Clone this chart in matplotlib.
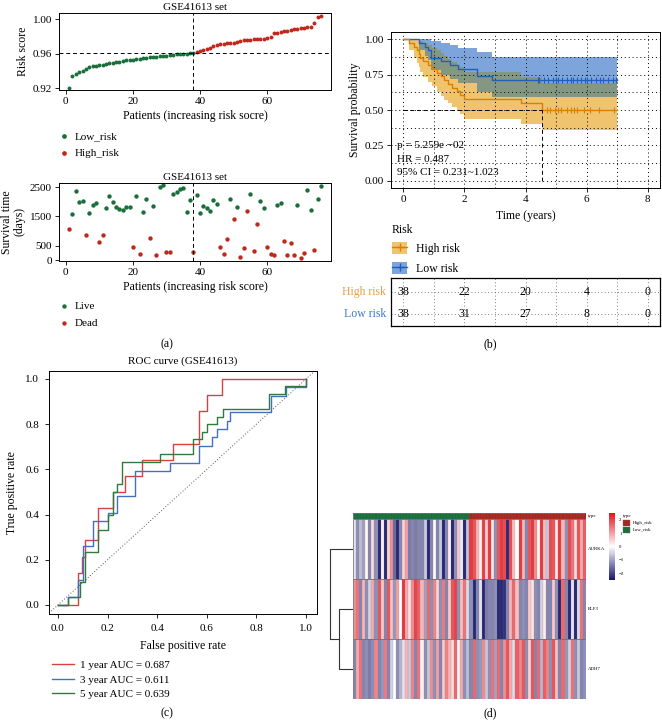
"""Risk model panel: risk score / survival scatter, KM curve, ROC and expression heatmap."""
import numpy as np
import matplotlib
matplotlib.use("Agg")
import matplotlib.pyplot as plt
from matplotlib.colors import LinearSegmentedColormap, ListedColormap, Normalize
from matplotlib.lines import Line2D
from matplotlib.patches import Patch, Rectangle

plt.rcParams["font.family"] = ["Liberation Serif", "DejaVu Serif"]
plt.rcParams["axes.linewidth"] = 0.7

W, H = 662, 720

# ---------------- data ----------------
# (a) risk score, sorted; first 38 low risk, last 38 high risk
risk_low = [0.9200, 0.9345, 0.9357, 0.9380, 0.9400, 0.9420, 0.9440, 0.9450, 0.9460, 0.9465,
            0.9470, 0.9478, 0.9485, 0.9492, 0.9500, 0.9505, 0.9512, 0.9520, 0.9525, 0.9530,
            0.9535, 0.9540, 0.9545, 0.9550, 0.9555, 0.9560, 0.9563, 0.9567, 0.9570, 0.9575,
            0.9580, 0.9585, 0.9590, 0.9594, 0.9597, 0.9600, 0.9602, 0.9605]
risk_high = [0.9616, 0.9627, 0.9639, 0.9651, 0.9666, 0.9686, 0.9698, 0.9705, 0.9709, 0.9717,
             0.9721, 0.9725, 0.9733, 0.9744, 0.9752, 0.9756, 0.9760, 0.9764, 0.9768, 0.9768,
             0.9772, 0.9780, 0.9795, 0.9834, 0.9842, 0.9850, 0.9858, 0.9861, 0.9873, 0.9881,
             0.9885, 0.9893, 0.9897, 0.9904, 0.9912, 0.9959, 1.0029, 1.0041]
risk_cutoff = 0.9608

# survival time (days) and status (1 = dead) per patient in risk order
surv_days = [1055, 1583, 2374, 1996, 2019, 860, 1617, 1893, 1961, 608,
             872, 1789, 2179, 2007, 1835, 1766, 1732, 1824, 1824, 459,
             2202, 218, 1640, 2110, 745, 1847, 195, 2500, 2558, 287,
             287, 2260, 2317, 2432, 2455, 1663, 2053, 275, 2214, 1629,
             1858, 1801, 1686, 2065, 1916, 459, 218, 723, 2110, 1411,
             1835, 103, 424, 1675, 2248, 321, 1227, 2042, 1789, 447,
             218, 195, 1893, 1950, 654, 195, 574, 172, 1904, 69,
             252, 2409, 1732, 367, 2088, 2535]
surv_dead = [1, 0, 0, 0, 0, 1, 0, 0, 0, 1,
             1, 0, 0, 0, 0, 0, 0, 0, 0, 1,
             0, 1, 0, 0, 1, 0, 1, 0, 0, 1,
             1, 0, 0, 0, 0, 0, 0, 1, 0, 0,
             0, 0, 0, 0, 0, 1, 1, 1, 0, 1,
             0, 1, 1, 1, 0, 1, 1, 0, 0, 1,
             1, 1, 0, 0, 1, 1, 1, 1, 0, 1,
             1, 0, 0, 1, 0, 0]

# (b) Kaplan-Meier
km_low_t = [0, 0.5, 0.7, 0.82, 0.9, 1.25, 1.52, 1.8, 2.4, 2.9, 7.0]
km_low_s = [1, 0.974, 0.947, 0.921, 0.868, 0.842, 0.816, 0.789, 0.737, 0.711, 0.711]
km_low_lo = [1, 0.92, 0.88, 0.85, 0.78, 0.75, 0.72, 0.69, 0.63, 0.59, 0.59]
km_low_hi = [1, 1, 1, 1, 0.99, 0.97, 0.96, 0.94, 0.91, 0.872, 0.872]
km_low_cens = [4.4, 4.45, 4.6, 4.75, 4.9, 5.0, 5.05, 5.2, 5.35, 5.5, 5.55,
               5.7, 5.8, 5.95, 6.0, 6.15, 6.3, 6.45, 6.55, 6.7, 6.85, 6.95]
km_high_t = [0, 0.2, 0.35, 0.45, 0.5, 0.55, 0.65, 0.8, 0.95, 1.1, 1.25, 1.35, 1.45,
             1.6, 1.75, 1.85, 2.0, 3.85, 4.55, 7.0]
km_high_s = [1, .974, .947, .921, .895, .868, .842, .816, .789, .763, .737, .711, .684,
             .658, .632, .605, .579, .55, .50, .50]
km_high_lo = [1, .92, .87, .83, .80, .77, .73, .70, .67, .63, .60, .57, .55,
              .52, .49, .47, .44, .40, .36, .36]
km_high_hi = [1, 1, 1, 1, 1, .99, .97, .96, .94, .92, .90, .88, .86,
              .84, .82, .80, .77, .73, .69, .69]
km_high_cens = [4.55, 4.7, 4.8, 4.95, 5.05, 5.15, 5.35, 5.5, 5.6, 5.7, 5.9, 6.1, 6.4, 6.9]
median_high = 4.55
risk_times = [0, 2, 4, 6, 8]
at_risk_high = [38, 22, 20, 4, 0]
at_risk_low = [38, 31, 27, 8, 0]

# (c) ROC
roc_1y_fpr = [0, 0.08, 0.095, 0.108, 0.16, 0.22, 0.27, 0.34, 0.465, 0.57, 0.6, 0.66, 1.0]
roc_1y_tpr = [0, 0.143, 0.214, 0.286, 0.429, 0.5, 0.571, 0.643, 0.714, 0.857, 0.929, 1.0, 1.0]
roc_3y_fpr = [0, 0.04, 0.08, 0.1, 0.14, 0.2, 0.24, 0.31, 0.45, 0.57, 0.62, 0.64, 0.68,
              0.695, 0.86, 0.92, 1.0]
roc_3y_tpr = [0, 0.037, 0.111, 0.259, 0.37, 0.407, 0.481, 0.593, 0.63, 0.704, 0.741,
              0.778, 0.815, 0.852, 0.926, 0.963, 1.0]
roc_5y_fpr = [0, 0.04, 0.09, 0.11, 0.16, 0.2, 0.22, 0.24, 0.26, 0.41, 0.545, 0.58, 0.6,
              0.64, 0.665, 0.85, 0.915, 1.0]
roc_5y_tpr = [0, 0.033, 0.1, 0.233, 0.333, 0.4, 0.5, 0.533, 0.633, 0.667, 0.733, 0.767,
              0.8, 0.833, 0.867, 0.933, 0.967, 1.0]
roc_labels = ["1 year AUC = 0.687", "3 year AUC = 0.611", "5 year AUC = 0.639"]

# (d) heatmap (z-scores), 38 low-risk then 38 high-risk samples
genes = ["AURKA", "ELF3", "ADH7"]
expr_aurka = [-0.3, -1.2, -0.7, -1.0, 0.1, -1.3, 0.4, -1.2, -2.3, 0.2, -2.3, 0.5, 1.2, -1.6,
              -2.3, -1.3, 0.5, 1.0, -1.4, -1.3, -1.4, -1.3, -1.3, -0.6, -2.3, -1.3, 0.1, -1.3,
              -0.6, -2.3, -1.3, 0.2, -2.3, -1.2, 0.6, -0.2, -2.3, -0.7,
              2.1, 1.8, 0.8, 0.2, 2.0, 0.6, 2.1, 0.3, -1.2, 1.8, 2.1, 1.9, -2.3, 1.9, 0.7, 0.0,
              2.1, 0.8, -1.3, 1.8, 2.1, 1.2, 0.1, 2.1, 0.7, -0.6, 1.9, 1.8, 0.3, 2.1, 0.8, -1.2,
              1.9, 1.5, 0.4, 1.8, 0.9, 1.7]
expr_elf3 = [1.2, 1.5, -1.3, 0.8, -1.2, -0.5, 0.9, -1.2, 1.8, 0.6, -1.3, 1.8, 0.7, -1.1,
             1.0, 0.0, 2.1, 0.9, 0.3, 1.2, 2.0, 1.7, 0.8, -1.0, 1.6, -1.2, 1.3, 0.5, -1.2, 1.4,
             -1.3, 0.6, 1.8, 2.0, -1.2, 0.7, 1.5, -0.4,
             -1.2, -2.3, -1.3, -0.3, -2.3, -1.4, -1.3, -1.3, -1.2, -2.3, -2.3, -2.2, -1.3, 0.8,
             1.6, 0.7, -1.3, -1.2, -1.3, 0.6, 0.3, -1.2, -1.3, -0.5, 0.2, -1.3, -1.3, 0.6, -1.2,
             -2.3, 1.6, -1.3, -2.3, -0.3, -2.3, -0.4, 1.5, -1.3]
expr_adh7 = [-1.3, 0.9, 1.5, -1.3, -1.2, -1.4, -1.2, 1.3, -1.3, -1.1, 1.4, -1.3, -0.5, 0.0,
             -1.2, -0.8, -0.3, 0.8, -0.6, 1.3, -1.3, 1.5, 0.2, -1.2, -0.6, 1.2, -1.2, 1.0, -1.3,
             0.6, 1.3, 0.8, 0.4, 1.6, -0.1, 0.9, -1.2, -0.7,
             -1.3, 1.6, -1.2, -1.1, 1.2, -0.6, -1.2, 1.5, -1.0, 1.6, -1.3, 1.2, 1.8, 0.9, -0.4,
             1.7, 1.3, 1.8, -1.2, 0.5, 1.8, -1.3, 1.6, -0.8, 1.7, 1.3, -1.2, 1.8, 0.7, -1.3, 1.6,
             -1.1, -0.5, 1.5, -1.2, -0.6, -1.3, -1.2]
sample_type = [0] * 38 + [1] * 38          # 0 Low_risk, 1 High_risk
dend_heights = [1.0, 1.65]                # ELF3+ADH7, then +AURKA

GREEN = "#1a6e3a"
RED = "#c0281c"
FS = 8


def box(x0, y0, x1, y1):
    """pixel box (top-left origin) -> figure fraction rect"""
    return [x0 / W, 1 - y1 / H, (x1 - x0) / W, (y1 - y0) / H]


def style(ax):
    ax.tick_params(labelsize=FS, length=3, width=0.6, pad=2)


def cell_grid(ax, ncol, nrow):
    """thin grey borders like pheatmap's border_color"""
    ax.vlines(np.arange(1, ncol), 0, nrow, color="#808080", lw=0.25, alpha=0.55)
    ax.hlines(np.arange(0, nrow + 1), 0, ncol, color="#707070", lw=0.6)
    ax.vlines([0, ncol], 0, nrow, color="#808080", lw=0.6)


fig = plt.figure(figsize=(W / 100, H / 100), dpi=100)

# ---------------- (a) risk score ----------------
pid = np.arange(1, 77)
ax = fig.add_axes(box(59, 13, 331, 90))
ax.scatter(pid[:38], risk_low, s=8, color=GREEN, lw=0, label="Low_risk")
ax.scatter(pid[38:], risk_high, s=8, color=RED, lw=0, label="High_risk")
ax.axvline(38, color="k", ls="--", lw=0.7, dashes=(4, 3))
ax.axhline(risk_cutoff, color="k", ls="--", lw=0.7, dashes=(4, 3))
ax.set_xlim(-2, 79)
ax.set_ylim(0.9177, 1.007)
ax.set_xticks([0, 20, 40, 60])
ax.set_yticks([0.92, 0.96, 1.00])
ax.set_yticklabels(["0.92", "0.96", "1.00"])
ax.set_title("GSE41613 set", fontsize=FS, pad=2)
ax.set_ylabel("Risk score", fontsize=8.5, labelpad=3)
ax.set_xlabel("Patients (increasing risk socre)", fontsize=8.5, labelpad=3)
style(ax)
h, l = ax.get_legend_handles_labels()
ax.legend(h, l, loc="upper left", bbox_to_anchor=(52 / W, 1 - 126 / H),
          bbox_transform=fig.transFigure, frameon=False, fontsize=FS,
          handletextpad=0.3, labelspacing=0.6, borderpad=0, handlelength=1.2,
          markerscale=1.2)

# ---------------- (a) survival time ----------------
ax = fig.add_axes(box(59, 183, 331, 261))
days = np.array(surv_days)
dead = np.array(surv_dead).astype(bool)
ax.scatter(pid[~dead], days[~dead], s=10, color=GREEN, lw=0, label="Live")
ax.scatter(pid[dead], days[dead], s=10, color=RED, lw=0, label="Dead")
ax.axvline(38, color="k", ls="--", lw=0.7, dashes=(4, 3))
ax.set_xlim(-2, 79)
ax.set_ylim(-25, 2640)
ax.set_xticks([0, 20, 40, 60])
ax.set_yticks([0, 500, 1500, 2500])
ax.set_title("GSE41613 set", fontsize=FS, pad=2)
ax.set_ylabel("Survival time\n(days)", fontsize=8.5, labelpad=3, linespacing=1.1)
ax.set_xlabel("Patients (increasing risk score)", fontsize=8.5, labelpad=3)
style(ax)
h, l = ax.get_legend_handles_labels()
ax.legend(h, l, loc="upper left", bbox_to_anchor=(52 / W, 1 - 296 / H),
          bbox_transform=fig.transFigure, frameon=False, fontsize=FS,
          handletextpad=0.3, labelspacing=0.6, borderpad=0, handlelength=1.2)

# ---------------- (b) Kaplan-Meier ----------------
BLUE_L, BLUE_F = "#1f5fbf", "#7da5dc"
ORG_L, ORG_F = "#d98000", "#f0c36e"
OVER_F = "#849783"


def step_at(times, vals, t):
    idx = np.searchsorted(times, t, side="right") - 1
    return np.asarray(vals)[idx]


ax = fig.add_axes(box(391, 32, 660, 188))
tg = np.union1d(km_low_t, km_high_t)
bl, bh = step_at(km_low_t, km_low_lo, tg), step_at(km_low_t, km_low_hi, tg)
ol, oh = step_at(km_high_t, km_high_lo, tg), step_at(km_high_t, km_high_hi, tg)
ax.fill_between(tg, bl, bh, step="post", color=BLUE_F, lw=0, zorder=1)
ax.fill_between(tg, ol, oh, step="post", color=ORG_F, lw=0, zorder=1)
lo_ov, hi_ov = np.maximum(bl, ol), np.minimum(bh, oh)
ax.fill_between(tg, lo_ov, hi_ov, where=hi_ov > lo_ov, step="post", color=OVER_F,
                lw=0, zorder=1.1)
ax.step(km_low_t, km_low_s, where="post", color=BLUE_L, lw=1.0, zorder=3)
ax.step(km_high_t, km_high_s, where="post", color=ORG_L, lw=1.0, zorder=3)
ax.plot(km_low_cens, step_at(km_low_t, km_low_s, np.array(km_low_cens)), ls="none",
        marker="|", ms=5, mew=0.8, color=BLUE_L, zorder=3)
ax.plot(km_high_cens, step_at(km_high_t, km_high_s, np.array(km_high_cens)), ls="none",
        marker="|", ms=5, mew=0.8, color=ORG_L, zorder=3)
ax.plot([0, median_high], [0.5, 0.5], color="k", ls="--", lw=0.7, dashes=(4, 3), zorder=4)
ax.plot([median_high, median_high], [0, 0.5], color="k", ls="--", lw=0.7, dashes=(4, 3), zorder=4)
ax.set_xlim(-0.4, 8.4)
ax.set_ylim(-0.05, 1.05)
ax.set_xticks([0, 2, 4, 6, 8])
ax.set_xticks([1, 3, 5, 7], minor=True)
ax.set_yticks([0, 0.25, 0.5, 0.75, 1.0])
ax.set_yticklabels(["0.00", "0.25", "0.50", "0.75", "1.00"])
ax.set_yticks([0.125, 0.375, 0.625, 0.875], minor=True)
ax.grid(which="both", color="k", ls=(0, (1, 3)), lw=0.7, zorder=2)
ax.set_axisbelow(False)
ax.tick_params(which="minor", length=0)
style(ax)
ax.set_ylabel("Survival probability", fontsize=8.5, labelpad=3)
ax.set_xlabel("Time (years)", fontsize=8.5, labelpad=4)
for yy, txt in zip([0.25, 0.15, 0.058],
                   ["p = 5.259e \u221202", "HR = 0.487", "95% CI = 0.231~1.023"]):
    ax.text(-0.2, yy, txt, fontsize=FS, va="center", ha="left", zorder=5)
handles = [(Patch(fc=ORG_F, ec="none"), Line2D([], [], color=ORG_L, marker="+", ms=6, lw=1)),
           (Patch(fc=BLUE_F, ec="none"), Line2D([], [], color=BLUE_L, marker="+", ms=6, lw=1))]
leg = ax.legend(handles, ["High risk", "Low risk"], title="Risk", loc="upper left",
                bbox_to_anchor=(386 / W, 1 - 218 / H), bbox_transform=fig.transFigure,
                frameon=False, fontsize=8.5, title_fontsize=8.5, alignment="left",
                handlelength=1.3, handleheight=1.2, labelspacing=0.55, handletextpad=0.7,
                borderpad=0)

# risk table
ax = fig.add_axes(box(391, 278, 660, 326))
ax.set_xlim(-0.4, 8.4)
ax.set_ylim(0, 1)
for t, nh, nl in zip(risk_times, at_risk_high, at_risk_low):
    ax.text(t, 0.71, str(nh), ha="center", va="center", fontsize=8.5)
    ax.text(t, 0.25, str(nl), ha="center", va="center", fontsize=8.5)
ax.set_xticks(risk_times)
ax.set_xticks([1, 3, 5, 7], minor=True)
ax.set_yticks([0.25, 0.71])
ax.grid(which="both", color="#555555", ls=(0, (1, 3)), lw=0.6)
ax.tick_params(which="both", length=0, labelbottom=False, labelleft=False)
for s in ax.spines.values():
    s.set_linewidth(0.9)
fig.text(386 / W, 1 - 292 / H, "High risk", color="#e8a040", fontsize=8.5, ha="right", va="center")
fig.text(386 / W, 1 - 314 / H, "Low risk", color="#3a78d0", fontsize=8.5, ha="right", va="center")

# ---------------- (c) ROC ----------------
ax = fig.add_axes(box(49, 371, 317, 614))
for fpr, tpr, col, lab in [(roc_1y_fpr, roc_1y_tpr, "#d94141", roc_labels[0]),
                           (roc_3y_fpr, roc_3y_tpr, "#4470c4", roc_labels[1]),
                           (roc_5y_fpr, roc_5y_tpr, "#2f7a3e", roc_labels[2])]:
    ax.plot(fpr, tpr, drawstyle="steps-post", color=col, lw=1.0, label=lab)
ax.axline((0, 0), (1, 1), color="#555555", ls=(0, (1, 2)), lw=0.7)
ax.set_xlim(-0.036, 1.044)
ax.set_ylim(-0.04, 1.035)
ax.set_xticks(np.arange(0, 1.01, 0.2))
ax.set_yticks(np.arange(0, 1.01, 0.2))
ax.xaxis.set_major_formatter(matplotlib.ticker.FormatStrFormatter("%.1f"))
ax.yaxis.set_major_formatter(matplotlib.ticker.FormatStrFormatter("%.1f"))
ax.set_title("ROC curve (GSE41613)", fontsize=FS, pad=5)
ax.set_xlabel("False positive rate", fontsize=8.5, labelpad=5)
ax.set_ylabel("True positive rate", fontsize=8.5, labelpad=5)
style(ax)
ax.tick_params(pad=4)
h, l = ax.get_legend_handles_labels()
ax.legend(h, l, loc="upper left", bbox_to_anchor=(46 / W, 1 - 655 / H),
          bbox_transform=fig.transFigure, frameon=False, fontsize=FS,
          handletextpad=0.6, labelspacing=0.4, borderpad=0, handlelength=2.0)

# ---------------- (d) heatmap ----------------
cmap = LinearSegmentedColormap.from_list("nwr", ["#16166a", "#ffffff", "#e3141c"])
norm = Normalize(-2.5, 2.5)
mat = np.array([expr_aurka, expr_elf3, expr_adh7])

ax = fig.add_axes(box(353, 519, 586, 699))
mesh = ax.pcolormesh(mat, cmap=cmap, norm=norm, edgecolors="none")
cell_grid(ax, mat.shape[1], mat.shape[0])
ax.set_xlim(0, mat.shape[1])
ax.set_ylim(mat.shape[0], 0)
ax.set_xticks([])
ax.set_yticks([])
for s in ax.spines.values():
    s.set_visible(False)
for i, g in enumerate(genes):
    ax.text(mat.shape[1] + 0.6, i + 0.5, g, fontsize=3.5, va="center", ha="left")

ax = fig.add_axes(box(353, 513, 586, 518.5))
ax.pcolormesh(np.array([sample_type]), cmap=ListedColormap([GREEN, "#a8271c"]),
              vmin=0, vmax=1, edgecolors="none")
cell_grid(ax, len(sample_type), 1)
ax.set_xlim(0, len(sample_type))
ax.set_ylim(0, 1)
ax.set_xticks([])
ax.set_yticks([])
for s in ax.spines.values():
    s.set_visible(False)
ax.text(len(sample_type) + 0.6, 0.5, "type", fontsize=3.5, va="center", ha="left")

# row dendrogram
ax = fig.add_axes(box(326, 519, 353, 699))
h1, h2 = dend_heights
kw = dict(color="#333333", lw=0.8)
ax.plot([0, h1, h1, 0], [1.5, 1.5, 2.5, 2.5], **kw)
ax.plot([h1, h2, h2, 0], [2.0, 2.0, 0.5, 0.5], **kw)
ax.set_xlim(1.94, 0)
ax.set_ylim(3, 0)
ax.axis("off")

# colour key
cax = fig.add_axes(box(609, 513, 615, 580))
cb = fig.colorbar(mesh, cax=cax, ticks=[-2, -1, 0, 1, 2])
cb.outline.set_visible(False)
cb.ax.tick_params(labelsize=3.5, length=0, pad=3)
cb.ax.set_yticklabels(["\u22122", "\u22121", "0", "1", "2"])

fig.text(623 / W, 1 - 516 / H, "type", fontsize=3.5, va="center", ha="left")
for k, (lab, col) in enumerate([("High_risk", "#a8271c"), ("Low_risk", GREEN)]):
    y0 = 520 + k * 6.5
    fig.patches.append(Rectangle((623 / W, 1 - (y0 + 6) / H), 7 / W, 6 / H,
                                 transform=fig.transFigure, fc=col, ec="#6e6e6e", lw=0.3))
    fig.text(633 / W, 1 - (y0 + 3) / H, lab, fontsize=3.5, va="center", ha="left")

# panel tags
for x, y, tag in [(167, 344, "(a)"), (490, 344, "(b)"), (167, 713, "(c)"), (490, 713, "(d)")]:
    fig.text(x / W, 1 - y / H, tag, fontsize=8.5, ha="center", va="center")

fig.savefig("out.png", dpi=100)
